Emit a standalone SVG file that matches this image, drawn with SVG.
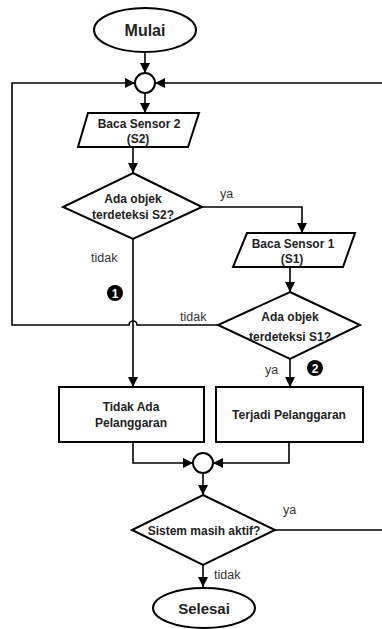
<svg xmlns="http://www.w3.org/2000/svg" width="382" height="629" viewBox="0 0 382 629">
<style>
.s{fill:#fff;stroke:#000;stroke-width:2}
.c{fill:none;stroke:#000;stroke-width:1.6}
.t{font-family:"Liberation Sans",Arial,sans-serif;font-weight:bold;font-size:12px;fill:#222;text-anchor:middle}
.l{font-family:"Liberation Sans",Arial,sans-serif;font-size:12.5px;fill:#333}
.n{font-family:"Liberation Sans",Arial,sans-serif;font-weight:bold;font-size:12px;fill:#fff;text-anchor:middle}
</style>
<defs>
<marker id="a" markerUnits="userSpaceOnUse" markerWidth="10" markerHeight="10" refX="10" refY="5" orient="auto" viewBox="0 0 10 10">
<path d="M0,0 L10,5 L0,10 z" fill="#000"/>
</marker>
</defs>
<rect width="382" height="629" fill="#fff"/>
<g id="connectors">
<path class="c" d="M145,52 L145,73" marker-end="url(#a)"/>
<path class="c" d="M145,93 L145,113" marker-end="url(#a)"/>
<path class="c" d="M133,147 L133,173" marker-end="url(#a)"/>
<path class="c" d="M202,207 L302,207 L302,233" marker-end="url(#a)"/>
<path class="c" d="M290,267 L290,292" marker-end="url(#a)"/>
<path class="c" d="M218,325 L137,325 A4,4 0 0 0 129,325 L12,325 L12,83 L135,83" marker-end="url(#a)"/>
<path class="c" d="M275,530 L392,530 L392,83 L155,83" marker-end="url(#a)"/>
<path class="c" d="M133,239 L133,387" marker-end="url(#a)"/>
<path class="c" d="M290,359 L290,387" marker-end="url(#a)"/>
<path class="c" d="M133,442 L133,463 L193,463" marker-end="url(#a)"/>
<path class="c" d="M289,442 L289,463 L213,463" marker-end="url(#a)"/>
<path class="c" d="M203,473 L203,495" marker-end="url(#a)"/>
<path class="c" d="M203,565 L203,587" marker-end="url(#a)"/>
<text class="l" x="220" y="198">ya</text>
<text class="l" x="91" y="262">tidak</text>
<text class="l" x="180" y="321">tidak</text>
<text class="l" x="265" y="374">ya</text>
<text class="l" x="283" y="514">ya</text>
<text class="l" x="214" y="579">tidak</text>
</g>
<g id="mulai">
<ellipse class="s" cx="145" cy="30" rx="51" ry="22"/>
<text class="t" x="145" y="36" style="font-size:16px">Mulai</text>
</g>
<g id="merge1">
<circle class="s" cx="145" cy="83" r="10"/>
</g>
<g id="baca-s2">
<polygon class="s" points="88,113 199,113 188,147 78,147"/>
<text class="t" x="139" y="128">Baca Sensor 2</text>
<text class="t" x="138" y="143">(S2)</text>
</g>
<g id="cek-s2">
<polygon class="s" points="133,173 202,207 133,239 63,207"/>
<text class="t" x="133" y="203">Ada objek</text>
<text class="t" x="133" y="219">terdeteksi S2?</text>
</g>
<g id="baca-s1">
<polygon class="s" points="247,233 355,233 343,267 233,267"/>
<text class="t" x="293" y="248">Baca Sensor 1</text>
<text class="t" x="292" y="263">(S1)</text>
</g>
<g id="cek-s1">
<polygon class="s" points="290,292 360,325 290,359 218,325"/>
<text class="t" x="290" y="321">Ada objek</text>
<text class="t" x="290" y="341">terdeteksi S1?</text>
</g>
<g id="marker-1">
<circle cx="115" cy="293" r="8" fill="#000"/>
<text class="n" x="115" y="297.5">1</text>
</g>
<g id="marker-2">
<circle cx="315" cy="368" r="8" fill="#000"/>
<text class="n" x="315" y="372.5">2</text>
</g>
<g id="tidak-ada">
<rect class="s" x="59" y="387" width="145" height="55"/>
<text class="t" x="131" y="411">Tidak Ada</text>
<text class="t" x="131" y="427">Pelanggaran</text>
</g>
<g id="terjadi">
<rect class="s" x="216" y="387" width="147" height="55"/>
<text class="t" x="289" y="419">Terjadi Pelanggaran</text>
</g>
<g id="merge2">
<circle class="s" cx="203" cy="463" r="10"/>
</g>
<g id="aktif">
<polygon class="s" points="203,495 275,530 203,565 132,530"/>
<text class="t" x="204" y="535">Sistem masih aktif?</text>
</g>
<g id="selesai">
<ellipse class="s" cx="204" cy="608" rx="51" ry="20"/>
<text class="t" x="204" y="614" style="font-size:15px">Selesai</text>
</g>
</svg>
